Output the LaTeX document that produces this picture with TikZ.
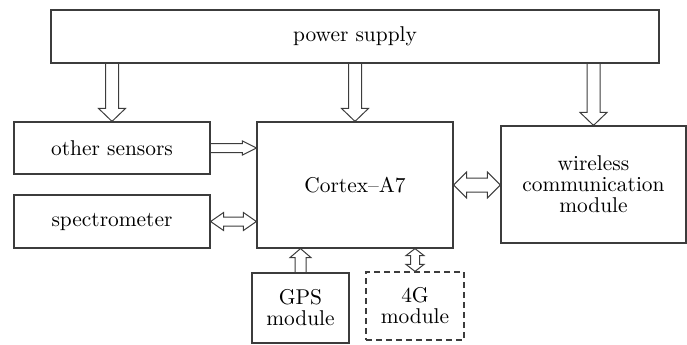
\documentclass[tikz,border=0pt]{standalone}
\usetikzlibrary{calc}
\definecolor{lineGray}{HTML}{3c3c3c}

% hollow block arrows: from, to, half shaft, half head, head length
\newcommand{\onearrow}[5]{%
  \coordinate (ah) at ($(#2)!#5!(#1)$);
  \draw[blockarr] ($(#1)!#3!90:(#2)$) -- ($(ah)!#3!90:(#2)$) -- ($(ah)!#4!90:(#2)$)
    -- (#2) -- ($(ah)!#4!-90:(#2)$) -- ($(ah)!#3!-90:(#2)$) -- ($(#1)!#3!-90:(#2)$);}
\newcommand{\twoarrow}[5]{%
  \coordinate (ah1) at ($(#1)!#5!(#2)$);
  \coordinate (ah2) at ($(#2)!#5!(#1)$);
  \draw[blockarr] (#1) -- ($(ah1)!#4!90:(#2)$) -- ($(ah1)!#3!90:(#2)$) -- ($(ah2)!#3!90:(#2)$)
    -- ($(ah2)!#4!90:(#2)$) -- (#2) -- ($(ah2)!#4!-90:(#2)$) -- ($(ah2)!#3!-90:(#2)$)
    -- ($(ah1)!#3!-90:(#2)$) -- ($(ah1)!#4!-90:(#2)$) -- cycle;}

\begin{document}
\begin{tikzpicture}[
  x=0.5pt, y=0.5pt,
  font=\fontsize{10.7}{10.5}\selectfont,
  box/.style={draw=lineGray, line width=0.6pt, align=center, inner sep=2pt},
  dbox/.style={box, dash pattern=on 3pt off 2pt},
  blockarr/.style={draw=lineGray, line width=0.5pt, line join=miter}
]
\useasboundingbox (0,0) rectangle (687,344);

% ============================================================
% BLOCKS
% ============================================================
\node[box, minimum width=304pt, minimum height=26.5pt] (pwr) at (355,307.5) {power supply};
\node[box, minimum width=98pt, minimum height=26pt] (sens) at (112,196) {other sensors};
\node[box, minimum width=98pt, minimum height=26.5pt] (spec) at (112,122.5) {spectrometer};
\node[box, minimum width=98pt, minimum height=63pt] (cpu) at (355,159) {Cortex--A7};
\node[box, minimum width=92.5pt, minimum height=58.5pt] (wls) at (593.5,159.5) {wireless\\communication\\module};
\node[box, minimum width=48.5pt, minimum height=35pt] (gps) at (300.5,36) {GPS\\module};
\node[dbox, minimum width=49pt, minimum height=34pt] (lte) at (415,38) {4G\\module};

% ============================================================
% ARROW END POINTS
% ============================================================
\coordinate (pwrSens) at (sens.north |- pwr.south);
\coordinate (pwrCpu) at (cpu.north |- pwr.south);
\coordinate (pwrWls) at (wls.north |- pwr.south);
\coordinate (cpuSens) at (cpu.west |- sens.east);
\coordinate (cpuSpec) at (cpu.west |- spec.east);
\coordinate (wlsCpu) at (wls.west |- cpu.east);
\coordinate (cpuGps) at (gps.north |- cpu.south);
\coordinate (cpuLte) at (lte.north |- cpu.south);

% ============================================================
% POWER FEEDS
% ============================================================
\onearrow{pwrSens}{sens.north}{3.25pt}{6.75pt}{6.5pt}
\onearrow{pwrCpu}{cpu.north}{3.25pt}{6.75pt}{6.5pt}
\onearrow{pwrWls}{wls.north}{3.25pt}{6.75pt}{6.5pt}

% ============================================================
% DATA LINKS TO THE CPU
% ============================================================
\onearrow{sens.east}{cpuSens}{2.25pt}{3.5pt}{7pt}
\twoarrow{spec.east}{cpuSpec}{2.25pt}{4.5pt}{6.5pt}
\twoarrow{cpu.east}{wlsCpu}{3.5pt}{6.5pt}{6.5pt}
\onearrow{gps.north}{cpuGps}{2.75pt}{5.25pt}{4.5pt}
\twoarrow{lte.north}{cpuLte}{2.25pt}{4.5pt}{3.5pt}

\end{tikzpicture}
\end{document}
